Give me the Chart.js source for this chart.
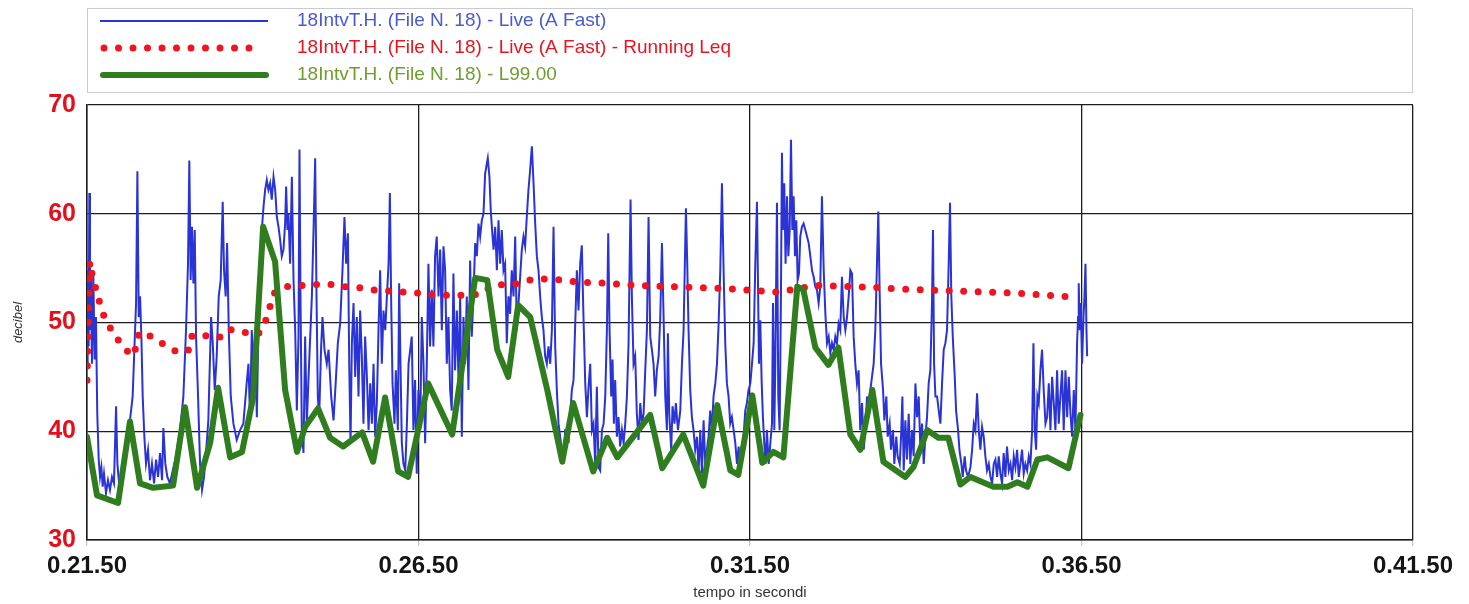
<!DOCTYPE html>
<html>
<head>
<meta charset="utf-8">
<title>18IntvT.H. (File N. 18)</title>
<script src="https://cdn.jsdelivr.net/npm/chart.js@4.4.0/dist/chart.umd.min.js"></script>
<style>
  html, body { margin: 0; padding: 0; background: #fff; }
  #wrap { width: 1469px; height: 604px; }
</style>
</head>
<body>
<div id="wrap"><canvas id="chart" width="1469" height="604"></canvas></div>
<script>
// 🏷️ Series names (legend)
const seriesNames = [
  '18IntvT.H. (File N. 18) - Live (A Fast)',
  '18IntvT.H. (File N. 18) - Live (A Fast) - Running Leq',
  '18IntvT.H. (File N. 18) - L99.00'
];

// 🔢 Axis ticks
const dbTicks = [30, 40, 50, 60, 70];
const timeTicks = [0, 300, 600, 900, 1200];   // seconds after 0.21.50

// 📈 Live (A Fast) - seconds after 0.21.50 / dB
const liveSec = [
  0, 0.6, 1.5, 2.1, 2.7, 3.6, 4.5, 5.7, 6.9, 8.1,
  9.3, 10.6, 11.8, 13.0, 14.2, 15.4, 17.2, 19.0, 20.8, 22.6,
  24.4, 26.3, 27.5, 29.3, 31.7, 34.1, 36.5, 38.9, 41.3, 43.5,
  44.4, 45.6, 46.8, 48.0, 49.2, 50.4, 51.9, 53.4, 55.2, 57.0,
  58.8, 60.7, 62.5, 64.3, 66.1, 67.9, 69.1, 70.9, 72.7, 75.1,
  77.6, 80.6, 84.2, 87.2, 89.6, 91.4, 92.6, 93.8, 95.0, 96.3,
  97.5, 98.7, 100.5, 102.3, 104.1, 105.9, 107.7, 109.8, 112.3, 113.8,
  115.6, 117.4, 119.2, 121.0, 122.8, 124.0, 125.5, 126.8, 128.3, 130.1,
  132.5, 135.5, 138.5, 141.5, 144.5,
  146.1, 147.6, 149.1, 150.6, 152.2, 153.7, 155.2, 156.7, 158.2, 159.7,
  161.2, 162.7, 164.2, 165.7, 167.2, 168.8, 170.3, 171.8, 173.3, 174.8,
  176.3, 177.8, 179.3, 180.2, 181.4, 182.3, 183.8, 185.4, 186.9, 188.4,
  189.9, 191.4, 192.3, 193.2, 194.4, 195.9, 197.4, 198.9, 200.4, 202.0,
  203.5, 205.0, 206.5, 207.7, 208.9, 210.1, 211.9, 213.1, 214.9, 217.0,
  218.6, 221.0, 223.1, 225.2, 227.0, 229.1, 231.2, 233.0, 234.5, 236.1,
  237.3, 238.5, 239.7, 241.2, 242.7, 244.2, 245.7, 247.2, 248.7, 250.2,
  251.7, 253.3, 254.8, 256.3, 257.8, 259.3, 260.8, 262.3, 263.8, 265.3,
  266.8, 268.3, 269.9, 271.4, 272.9, 274.1, 275.3, 276.5, 278.3, 279.5,
  281.3, 282.5, 283.7, 284.9, 286.4, 288.0, 289.5, 291.0,
  293.9, 295.4, 296.9, 298.4, 299.9, 301.5, 303.0, 304.5, 306.0, 307.5,
  309.0, 310.5, 312.0, 313.5, 315.0, 316.5, 318.1, 319.6, 321.1, 322.6,
  324.1, 325.6, 327.1, 328.6, 330.1, 331.6, 333.1, 334.7, 336.2, 337.7,
  339.2, 340.7, 342.2, 343.7, 345.2, 346.7, 348.2, 349.7, 351.3, 352.8,
  354.3, 355.8, 357.3, 358.8, 360.3, 361.8, 362.7, 364.2, 365.4, 366.6,
  367.9, 369.4, 370.9, 372.4, 373.9, 375.4, 376.9, 378.4, 379.9, 381.4,
  382.9, 384.4, 386.0, 387.5, 389.0, 390.5, 392.0, 393.5, 395.0, 396.5,
  398.0, 399.5, 401.0, 402.6, 404.1, 405.6, 407.1, 408.6, 410.1, 411.6,
  413.1, 414.6, 416.1, 417.6, 419.2, 420.7, 422.2, 423.7, 425.2, 426.7,
  428.2, 429.7, 431.2, 432.7, 434.2, 435.8, 437.3, 438.8, 440.3,
  443.3, 444.8, 446.3, 447.8, 449.3, 450.9, 452.4, 453.9, 455.4, 456.9,
  458.4, 459.9, 461.4, 462.9, 464.4, 466.0, 467.5, 469.0, 470.5, 471.7,
  472.9, 474.4, 475.6, 476.8, 478.0, 479.5, 481.0, 482.5, 484.1, 485.6,
  487.1, 488.6, 490.1, 491.9, 493.1, 494.6, 496.1, 497.6, 499.1, 500.7,
  502.2, 503.7, 505.2, 506.7, 508.2, 509.7, 511.2, 512.7, 514.2, 515.7,
  517.3, 518.8, 520.3, 521.8, 523.3, 524.8, 525.7, 526.9, 528.7, 529.9,
  531.7, 532.9, 534.8, 536.9, 538.4, 539.9, 542.0, 543.2, 544.4, 545.9,
  547.4, 548.9, 550.4, 552.0, 553.5, 555.0, 556.5, 558.0, 559.5, 561.0,
  562.5, 564.0, 565.5, 567.0, 568.6, 570.1, 571.6, 573.1, 574.6, 576.1,
  577.6, 579.1, 580.6, 582.1, 583.6, 585.2, 586.7, 588.2, 589.7,
  591.2, 592.7, 594.2, 595.7, 597.2, 598.7, 600.3, 601.8, 603.3, 604.8,
  606.3, 607.2, 608.1, 609.3, 610.5, 611.7, 612.9, 614.1, 615.3, 616.9,
  618.4, 619.9, 620.8, 622.0, 622.9, 624.4, 625.6, 626.8, 628.0, 628.9,
  629.8, 631.0, 632.2, 633.5, 634.7, 635.9, 637.1, 638.3, 639.5, 640.7,
  641.9, 643.1, 644.3, 645.5, 647.0, 648.5, 650.1, 651.6, 653.1, 654.6,
  656.1, 657.6, 659.1, 660.6, 662.1, 663.6, 665.1, 666.7, 668.2, 669.7,
  671.2, 672.7, 674.2, 675.7, 677.2, 678.7, 680.2, 681.7, 683.2, 684.8,
  686.3, 687.8, 689.3, 690.8, 692.3, 693.8, 695.3, 696.8, 698.3, 699.8,
  701.4, 702.9, 704.4, 705.9, 707.4, 708.9, 710.4, 711.9, 713.4, 714.9,
  716.1, 717.4, 718.6, 720.4, 721.6, 723.4, 724.6, 726.4, 727.6, 729.4,
  730.6, 732.4, 733.6, 735.5, 736.7, 737.9, 739.1,
  740.6, 742.1, 743.6, 745.1, 746.6, 748.1, 749.7, 751.2, 752.7, 754.2,
  755.7, 757.2, 758.7, 760.2, 761.7, 763.2, 764.7, 765.6, 766.6, 767.8,
  769.3, 770.8, 772.3, 773.8, 775.3, 776.8, 778.3, 779.8, 781.0, 782.2,
  783.5, 785.3, 786.5, 788.3, 789.5, 791.3, 792.5, 794.3, 795.5, 797.3,
  799.5, 801.0, 802.5, 804.0, 805.5, 807.0, 808.5, 810.0, 811.5, 813.0,
  814.5, 816.1, 817.6, 819.1, 820.6, 822.1, 823.6, 825.1, 826.6, 828.1,
  829.6, 831.1, 832.6, 834.2, 835.7, 837.2, 838.7, 840.2, 841.7, 843.2,
  844.7, 846.2, 847.7, 849.2, 850.8, 852.3, 853.8, 855.3, 856.5, 857.7,
  858.9, 860.1, 861.3, 862.8, 864.3, 865.8, 867.4, 868.9, 870.4, 871.9,
  873.4, 874.9, 876.4, 877.9, 879.4, 880.9, 882.4, 883.9, 885.5, 887.0,
  888.5, 890.0, 891.5, 893.0, 894.5, 896.0, 896.9, 897.5, 898.4, 899.3,
  900.5, 901.8, 902.7, 903.6, 904.5, 905.1
];
const liveDb = [
  46.2, 54.8, 47.8, 61.9, 49.3, 53.9, 46.2, 54.5, 46.6, 50.5,
  41.6, 37.4, 35.8, 36.7, 34.9, 36.1, 34.3, 35.5, 34.6, 35.8,
  35.2, 42.3, 37.0, 34.9, 36.4, 38.3, 39.5, 41.0, 43.2, 49.3,
  51.8, 63.9, 50.5, 52.4, 48.7, 43.2, 39.5, 37.0, 38.3, 35.5,
  37.0, 35.2, 37.4, 35.8, 38.0, 35.5, 40.3, 37.0, 35.8, 35.2,
  36.4, 37.7, 40.1, 43.2, 49.3, 55.4, 64.9, 53.9, 58.8, 53.6,
  58.5, 48.7, 43.2, 37.0, 34.6, 35.8, 38.0, 41.0, 50.5, 48.1,
  43.8, 46.9, 52.4, 53.9, 61.1, 54.8, 52.4, 57.3, 49.3, 43.2,
  40.7, 39.2, 40.1, 40.7, 44.4,
  46.2, 41.0, 49.3, 46.2, 48.7, 41.3, 49.9, 55.4, 58.5, 60.6,
  62.2, 63.1, 62.2, 62.8, 61.3, 63.4, 62.2, 59.7, 58.8, 57.6,
  56.1, 56.7, 59.1, 62.5, 58.5, 60.0, 55.4, 63.4, 53.9, 49.3,
  41.9, 48.7, 65.9, 52.4, 40.1, 38.0, 48.7, 40.7, 44.7, 48.7,
  52.4, 58.5, 65.1, 52.4, 43.2, 41.3, 47.8, 50.5, 47.5, 46.2,
  47.5, 43.2, 41.0, 44.7, 48.1, 49.9, 54.8, 59.7, 55.4, 58.2,
  46.2, 38.9, 48.1, 51.8, 45.0, 50.5, 43.2, 51.1, 46.9, 40.7,
  48.7, 45.0, 40.1, 44.4, 40.7, 46.2, 39.5, 42.6, 49.3, 54.8,
  46.2, 51.1, 49.3, 52.4, 55.4, 61.9, 51.8, 44.4, 40.7, 45.6,
  40.1, 53.6, 46.2, 38.9, 37.0, 36.4, 40.7, 46.2,
  48.7, 40.1, 44.7, 36.1, 43.8, 40.1, 50.5, 46.2, 38.9, 46.2,
  55.4, 47.8, 53.0, 47.8, 56.1, 57.9, 52.4, 56.7, 49.3, 57.0,
  54.8, 46.2, 50.5, 43.8, 41.9, 54.5, 45.6, 51.1, 44.7, 52.4,
  39.5, 50.5, 46.2, 52.4, 43.8, 55.7, 48.7, 52.4, 57.3, 56.1,
  59.1, 57.9, 59.4, 60.0, 63.7, 64.6, 65.1, 63.4, 60.3, 58.5,
  56.7, 58.8, 54.8, 59.4, 55.4, 58.5, 54.8, 55.4, 48.1, 52.4,
  50.8, 54.8, 52.4, 57.9, 49.3, 51.8, 54.2, 56.7, 57.9, 57.0,
  59.7, 62.2, 64.0, 66.2, 62.8, 59.1, 56.1, 54.8, 52.4, 50.5,
  49.3, 46.9, 46.2, 47.8, 46.2, 49.3, 58.8, 47.8, 43.8, 40.7,
  39.5, 38.3, 37.0, 40.1, 40.1, 38.9, 41.6, 43.8, 44.7,
  54.8, 51.1, 55.4, 57.1, 50.5, 44.4, 41.3, 44.1, 46.2, 40.1,
  40.7, 37.0, 44.1, 36.7, 36.4, 40.1, 40.7, 43.2, 49.3, 58.2,
  49.3, 43.2, 46.6, 40.7, 44.7, 39.5, 41.3, 38.6, 40.1, 38.9,
  40.7, 43.2, 48.1, 61.3, 52.4, 46.2, 46.9, 41.6, 39.2, 42.6,
  40.7, 41.6, 45.6, 49.3, 59.7, 48.7, 47.5, 46.2, 43.2, 45.6,
  46.9, 50.5, 57.3, 50.5, 43.2, 40.1, 49.0, 41.6, 38.3, 42.3,
  40.7, 42.6, 40.1, 41.9, 46.2, 49.3, 60.5, 55.4, 49.3, 43.8,
  41.3, 40.1, 38.3, 39.5, 36.4, 40.1, 36.1, 41.0, 37.0, 38.3,
  39.5, 41.9, 40.1, 43.2, 44.4, 46.2, 49.9, 54.8, 62.8, 54.8,
  48.1, 44.4, 43.2, 40.7, 41.3, 40.1, 38.9, 37.0, 38.6,
  36.1, 37.7, 39.5, 41.9, 42.6, 43.8, 44.4, 46.2, 48.1, 55.4,
  61.1, 53.9, 46.2, 50.2, 44.7, 41.3, 38.9, 37.0, 40.1, 37.0,
  38.9, 40.7, 51.8, 40.1, 46.2, 61.0, 43.2, 40.1, 52.4, 65.6,
  58.5, 62.8, 55.4, 61.6, 56.1, 58.5, 66.8, 58.5, 61.6, 56.1,
  59.4, 53.9, 54.5, 57.9, 58.8, 59.1, 58.5, 57.9, 57.3, 56.1,
  54.8, 54.2, 53.3, 53.0, 51.8, 53.3, 61.6, 54.8, 50.8, 48.1,
  48.7, 47.2, 48.1, 47.5, 48.7, 48.1, 49.9, 49.3, 54.2, 50.5,
  49.3, 50.5, 52.4, 54.8, 54.5, 48.7, 46.2, 44.4, 45.6, 40.1,
  42.6, 38.3, 40.1, 43.2, 41.3, 43.8, 45.0, 46.2, 49.3, 55.4,
  60.2, 52.4, 46.2, 43.8, 41.0, 43.2, 39.5, 40.7, 38.3, 40.1,
  37.0, 39.5, 37.7, 37.0, 39.5, 43.2, 36.4,
  41.0, 37.4, 41.6, 37.0, 40.1, 37.7, 44.4, 41.3, 43.2, 38.3,
  40.7, 37.0, 39.5, 41.3, 44.4, 45.6, 51.8, 58.5, 46.2, 43.2,
  43.2, 41.9, 40.7, 44.4, 47.5, 48.1, 49.3, 55.4, 61.0, 52.4,
  48.7, 45.0, 41.9, 40.1, 38.3, 37.0, 35.8, 37.7, 36.4, 35.8,
  36.7, 38.3, 40.7, 40.1, 43.5, 40.1, 38.3, 40.4, 39.5, 37.7,
  36.4, 37.0, 35.8, 35.2, 37.0, 37.4, 35.8, 37.7, 36.1, 35.2,
  38.0, 35.8, 38.6, 36.4, 37.0, 35.5, 37.7, 36.7, 38.3, 35.8,
  37.0, 38.3, 36.1, 37.0, 36.4, 37.7, 37.0, 40.1, 48.1, 40.1,
  38.3, 43.2, 42.6, 45.6, 47.5, 43.8, 40.7, 41.3, 44.4, 40.1,
  45.0, 42.6, 40.1, 45.6, 40.7, 43.2, 45.6, 40.1, 45.6, 41.3,
  45.0, 41.6, 39.5, 43.8, 40.1, 48.1, 50.5, 53.6, 49.3, 51.8,
  46.2, 50.5, 52.4, 55.4, 49.3, 46.9
];

// 🔴 Running Leq
const leqSec = [
  0, 2.5, 5.0, 8.0, 11.8, 16.3, 23.5, 30.8, 40.7, 45.3,
  47.1, 58.9, 70.6, 83.3, 92.4, 95.1, 105.9, 119.5, 127.7, 141.2,
  154.8, 161.2, 164.8, 169.3, 181.1, 194.7, 207.3, 220.0, 233.6, 247.2,
  259.8, 273.4, 287.0, 301.5, 315.1, 342.2, 355.8, 366.7, 379.4, 392.0,
  403.8, 417.4, 431.0, 444.6, 471.7, 498.9, 526.0, 554.1, 581.3, 608.4,
  622.9, 636.5, 648.3, 662.7, 689.9, 717.1, 731.6, 758.7, 785.9, 813.0,
  840.2, 868.3, 896.3
];
const leqDb = [
  44.7, 55.6, 54.2, 53.1, 51.7, 50.3, 49.1, 48.0, 46.9, 47.9,
  49.1, 48.7, 47.9, 47.2, 47.5, 48.8, 48.8, 48.6, 49.4, 49.1,
  48.9, 50.0, 51.2, 52.7, 53.3, 53.4, 53.5, 53.5, 53.3, 53.2,
  53.0, 52.9, 52.8, 52.7, 52.5, 52.5, 52.6, 53.4, 53.5, 53.6,
  54.0, 54.0, 53.9, 53.7, 53.6, 53.4, 53.3, 53.2, 53.1, 52.9,
  52.8, 53.0, 53.2, 53.4, 53.3, 53.2, 53.1, 53.0, 52.9, 52.8,
  52.7, 52.5, 52.3
];

// 🟢 L99.00
const l99Sec = [
  0, 9.1, 28.1, 38.9, 48.0, 59.8, 77.9, 88.7, 99.6, 111.4,
  118.6, 129.5, 140.3, 150.3, 159.4, 170.2, 179.3, 190.1, 197.4, 209.1,
  220.0, 231.8, 249.0, 258.9, 269.8, 281.6, 290.6, 308.7, 330.5, 351.3,
  362.2, 371.2, 381.2, 390.2, 401.1, 416.5, 430.1, 440.0, 458.1, 470.8,
  479.9, 509.7, 520.6, 539.6, 557.7, 570.4, 582.2, 589.4, 602.1, 611.1,
  621.1, 630.2, 642.8, 648.3, 659.1, 670.9, 680.0, 690.8, 699.9, 710.7,
  720.7, 740.6, 747.9, 760.5, 770.5, 779.5, 790.4, 799.5, 820.3, 833.0,
  842.0, 851.1, 860.1, 869.2, 888.2, 899.1
];
const l99Db = [
  39.5, 34.1, 33.4, 40.9, 35.2, 34.8, 35.0, 42.2, 34.8, 38.9,
  44.0, 37.6, 38.1, 43.1, 58.8, 55.6, 43.8, 38.1, 40.4, 42.1,
  39.4, 38.6, 39.9, 37.2, 43.1, 36.3, 35.8, 44.4, 39.7, 54.1,
  53.9, 47.5, 45.0, 51.6, 50.5, 43.8, 37.2, 42.6, 36.3, 39.4,
  37.6, 41.5, 36.6, 39.7, 35.0, 42.4, 36.4, 36.0, 43.3, 37.1,
  38.1, 37.6, 53.3, 53.0, 47.7, 46.1, 47.7, 39.7, 38.3, 43.8,
  37.2, 35.8, 36.7, 40.1, 39.4, 39.4, 35.1, 35.8, 34.9, 34.9,
  35.3, 34.9, 37.4, 37.6, 36.6, 41.5
];


// ⏱️ Time labels like 0.21.50 (h.mm.ss)
const startSec = 21 * 60 + 50;

function timeLabel(v) {
  const s = startSec + v;
  const h = Math.floor(s / 3600);
  const m = Math.floor((s % 3600) / 60);
  const sec = Math.round(s % 60);
  return h + '.' + String(m).padStart(2, '0') + '.' + String(sec).padStart(2, '0');
}

function toPoints(xs, ys) {
  return xs.map((x, i) => ({ x: x, y: ys[i] }));
}

const plainFont = '"Liberation Sans", Arial, sans-serif';
const textColors = ['#4a5ad0', '#e8141e', '#6f9d2f'];


// 🗂️ Legend box above the plot
const boxLegend = {
  id: 'boxLegend',
  afterDraw(chart) {
    const ctx = chart.ctx;
    ctx.save();
    ctx.strokeStyle = '#c6cadb';
    ctx.lineWidth = 1;
    ctx.strokeRect(87.5, 8.5, 1325, 84);

    chart.data.datasets.forEach((ds, i) => {
      const y = 21 + i * 27;
      ctx.beginPath();
      ctx.strokeStyle = ds.borderColor;
      ctx.lineWidth = ds.borderWidth;
      ctx.lineCap = ds.borderCapStyle || 'butt';
      ctx.setLineDash(ds.borderDash || []);
      if (i === 1) {
        ctx.moveTo(104, y); ctx.lineTo(256, y);
      } else {
        ctx.moveTo(i === 2 ? 103 : 100, y); ctx.lineTo(i === 2 ? 266 : 268, y);
      }
      ctx.stroke();
      ctx.setLineDash([]);

      ctx.fillStyle = textColors[i];
      ctx.font = '19px ' + plainFont;
      ctx.textBaseline = 'middle';
      ctx.textAlign = 'left';
      ctx.fillText(ds.label, 297, y);
    });
    ctx.restore();
  }
};


// 📊 Chart
new Chart(document.getElementById('chart'), {
  type: 'line',
  data: {
    datasets: [
      {
        label: seriesNames[0],
        data: toPoints(liveSec, liveDb),
        borderColor: '#2a33d6',
        borderWidth: 2,
        order: 3
      },
      {
        label: seriesNames[1],
        data: toPoints(leqSec, leqDb),
        borderColor: '#f0141e',
        borderWidth: 7,
        borderDash: [0, 14.5],
        borderCapStyle: 'round',
        order: 2
      },
      {
        label: seriesNames[2],
        data: toPoints(l99Sec, l99Db),
        borderColor: '#2f7d1f',
        borderWidth: 6,
        borderJoinStyle: 'round',
        borderCapStyle: 'round',
        order: 1
      }
    ]
  },
  options: {
    responsive: false,
    animation: false,
    devicePixelRatio: 1,
    elements: {
      point: { radius: 0 },
      line: { tension: 0, fill: false }
    },
    layout: { padding: { left: 0, top: 105, right: 56, bottom: 0 } },
    plugins: {
      legend: { display: false },
      tooltip: { enabled: false }
    },
    scales: {
      x: {
        type: 'linear',
        min: timeTicks[0],
        max: timeTicks[timeTicks.length - 1],
        afterFit: (s) => { s.height = 64; },
        afterBuildTicks: (s) => { s.ticks = timeTicks.map(v => ({ value: v })); },
        ticks: {
          callback: (v) => timeLabel(v),
          color: '#151515',
          font: { family: plainFont, size: 24, weight: 'bold' },
          padding: 6,
          maxRotation: 0,
          autoSkip: false
        },
        grid: { color: '#1c1c1c', lineWidth: 1.3, tickLength: 6, tickColor: '#c8c8c8' },
        border: { color: '#1c1c1c', width: 1.5 },
        title: {
          display: true,
          text: 'tempo in secondi',
          color: '#333',
          font: { family: plainFont, size: 15 },
          padding: { top: 0, bottom: 2 }
        }
      },
      y: {
        min: dbTicks[0],
        max: dbTicks[dbTicks.length - 1],
        afterFit: (s) => { s.width = 87; },
        afterBuildTicks: (s) => { s.ticks = dbTicks.map(v => ({ value: v })); },
        ticks: {
          color: '#e3101c',
          font: { family: plainFont, size: 25, weight: 'bold' },
          padding: 11
        },
        grid: { color: '#1c1c1c', lineWidth: 1.3, drawTicks: false },
        border: { color: '#1c1c1c', width: 1.5 },
        title: {
          display: true,
          text: 'decibel',
          color: '#333',
          font: { family: plainFont, size: 13, style: 'italic' },
          padding: { top: 11, bottom: 0 }
        }
      }
    }
  },
  plugins: [boxLegend]
});
</script>
</body>
</html>
